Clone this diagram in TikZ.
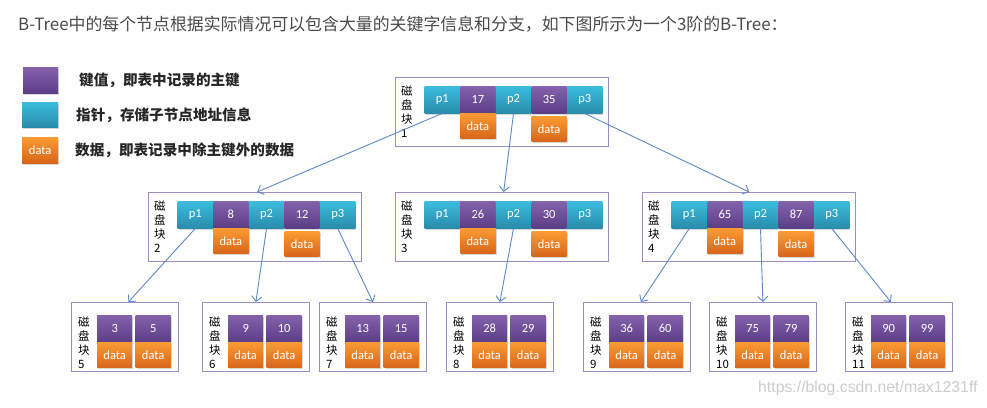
\documentclass[tikz,border=0pt]{standalone}
\usepackage{fontspec}
\setmainfont{Noto Sans CJK SC}
\newfontfamily\cjk{Noto Sans CJK SC}
\newfontfamily\cellf{Carlito}
\newfontfamily\wmf{Liberation Sans}
\usetikzlibrary{shadows,calc,arrows.meta}
\definecolor{keyT}{HTML}{8462AC}
\definecolor{keyB}{HTML}{5B3D86}
\definecolor{ptrT}{HTML}{3BBCDD}
\definecolor{ptrB}{HTML}{2A8CAB}
\definecolor{datT}{HTML}{FA9A34}
\definecolor{datB}{HTML}{D8661A}
\definecolor{boxc}{HTML}{A08CC8}
\definecolor{linkc}{HTML}{5E88C6}
\definecolor{titc}{HTML}{4A4A4A}
\tikzset{
 cellbase/.style={rectangle, inner sep=0pt, text=white, font=\cellf\fontsize{12.5}{14}\selectfont, drop shadow={shadow xshift=1pt, shadow yshift=-1.5pt, opacity=0.3}},
 keyc/.style={cellbase, minimum width=35.2pt, minimum height=27pt, top color=keyT, bottom color=keyB},
 ptrc/.style={cellbase, minimum width=35.2pt, minimum height=27pt, top color=ptrT, bottom color=ptrB},
 datac/.style={cellbase, minimum width=35.2pt, minimum height=25pt, top color=datT, bottom color=datB},
 outerbox/.style={rectangle, draw=boxc, line width=1.3pt, fill=white, inner sep=0pt},
 lbl/.style={align=left, inner sep=0pt, font=\cjk\fontsize{11.5}{14}\selectfont, text=black},
 legtxt/.style={anchor=west, inner sep=0pt, font=\cjk\bfseries\fontsize{14.6}{17}\selectfont, text=black!85},
 link/.style={draw=linkc, line width=0.9pt, -{Straight Barb[length=5pt,width=10pt]}},
}
\newcommand\bigblk[6]{%
 \node[outerbox, minimum width=213pt, minimum height=69pt, anchor=north west] (#1) at (#2,#3) {};
 \node[lbl, anchor=west] (#1-l) at ($(#1.west)+(6,0)$) {磁\\盘\\块\\#4};
 \node[ptrc, anchor=north west] (#1-p1) at ($(#1.north west)+(29.5,9)$) {p1};
 \node[keyc, anchor=west] (#1-k1) at (#1-p1.east) {#5};
 \node[ptrc, anchor=west] (#1-p2) at (#1-k1.east) {p2};
 \node[keyc, anchor=west] (#1-k2) at (#1-p2.east) {#6};
 \node[ptrc, anchor=west] (#1-p3) at (#1-k2.east) {p3};
 \node[datac, anchor=north] (#1-d1) at (#1-k1.south) {data};
 \node[datac, anchor=north] (#1-d2) at ([yshift=-3pt]#1-k2.south) {data};
}
\newcommand\leafblk[5]{%
 \node[outerbox, minimum width=106.5pt, minimum height=69pt, anchor=north west] (#1) at (#2,302) {};
 \node[lbl, anchor=west] (#1-l) at ($(#1.west)+(7,5.5)$) {磁\\盘\\块\\#3};
 \node[keyc, minimum width=35pt, anchor=north west] (#1-k1) at ($(#1.north west)+(26,13)$) {#4};
 \node[keyc, minimum width=35pt, anchor=north west] (#1-k2) at ($(#1.north west)+(64.5,13)$) {#5};
 \node[datac, minimum width=35pt, anchor=north] (#1-d1) at (#1-k1.south) {data};
 \node[datac, minimum width=35pt, anchor=north] (#1-d2) at (#1-k2.south) {data};
}
\begin{document}
\begin{tikzpicture}[x=1pt,y=-1pt]
\fill[white] (0,0) rectangle (987,407);
\useasboundingbox (0,0) rectangle (987,407);
\node[anchor=west, inner sep=0pt, font=\cjk\fontsize{16.9}{20}\selectfont, text=titc] (title) at (18,24.5) {B-Tree中的每个节点根据实际情况可以包含大量的关键字信息和分支，如下图所示为一个3阶的B-Tree：};
% legend
\node[keyc, minimum width=35pt, minimum height=26pt, anchor=north west] (lg-k) at (23,67) {};
\node[ptrc, minimum width=36pt, minimum height=25pt, anchor=north west] (lg-p) at (22,102) {};
\node[datac, minimum width=36pt, minimum height=26pt, anchor=north west] (lg-d) at (22,137) {data};
\node[legtxt] (lg-kt) at (79,80) {键值，即表中记录的主键};
\node[legtxt] (lg-pt) at (76,115) {指针，存储子节点地址信息};
\node[legtxt] (lg-dt) at (75,150) {数据，即表记录中除主键外的数据};
% blocks
\bigblk{root}{395}{77}{1}{17}{35}
\bigblk{n2}{148}{192}{2}{8}{12}
\bigblk{n3}{395}{192}{3}{26}{30}
\bigblk{n4}{642}{192}{4}{65}{87}
\leafblk{l5}{71}{5}{3}{5}
\leafblk{l6}{202}{6}{9}{10}
\leafblk{l7}{319}{7}{13}{15}
\leafblk{l8}{446}{8}{28}{29}
\leafblk{l9}{583}{9}{36}{60}
\leafblk{l10}{709}{10}{75}{79}
\leafblk{l11}{845}{11}{90}{99}
% links
\draw[link] (root-p1.south) -- ([xshift=2pt]n2.north);
\draw[link] (root-p2.south) -- ([xshift=1.5pt]n3.north);
\draw[link] (root-p3.south) -- (n4.north);
\draw[link] (n2-p1.south) -- ([xshift=3.5pt]l5.north);
\draw[link] (n2-p2.south) -- (l6.north);
\draw[link] (n2-p3.south) -- (l7.north);
\draw[link] (n3-p2.south) -- (l8.north);
\draw[link] (n4-p1.south) -- ([xshift=4pt]l9.north);
\draw[link] (n4-p2.south) -- (l10.north);
\draw[link] (n4-p3.south) -- ([xshift=-8pt]l11.north);
% watermark
\node[anchor=west, inner sep=0pt, font=\wmf\fontsize{15.8}{18}\selectfont, text=black!20] (wm) at (758,388) {https://blog.csdn.net/max1231ff};
\end{tikzpicture}
\end{document}
